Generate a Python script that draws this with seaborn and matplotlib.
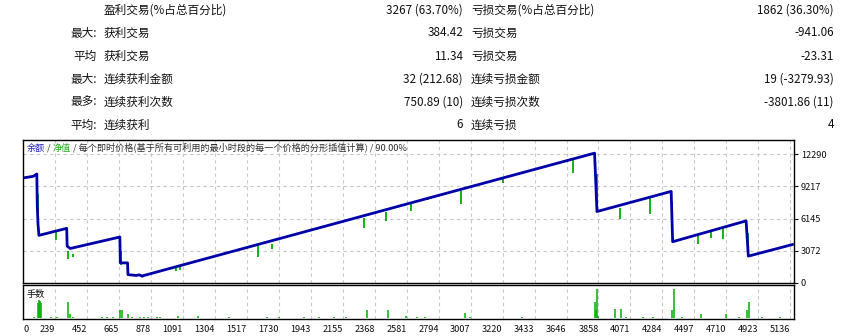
import numpy as np
import pandas as pd
import matplotlib
matplotlib.use('Agg')
import matplotlib.pyplot as plt
import seaborn as sns

# stats table (left half / right half)
row_prefix = ["", "最大:", "平均", "最大:", "最多:", "平均:"]
win_labels = ["盈利交易(%占总百分比)", "获利交易", "获利交易", "连续获利金额", "连续获利次数", "连续获利"]
win_values = ["3267 (63.70%)", "384.42", "11.34", "32 (212.68)", "750.89 (10)", "6"]
loss_labels = ["亏损交易(%占总百分比)", "亏损交易", "亏损交易", "连续亏损金额", "连续亏损次数", "连续亏损"]
loss_values = ["1862 (36.30%)", "-941.06", "-23.31", "19 (-3279.93)", "-3801.86 (11)", "4"]

# balance curve vertices (trade number, balance)
balance_x = [26, 95, 118, 121, 126, 132, 317, 320, 340, 671, 674, 722, 725, 780, 800, 820, 827,
             2701, 3832, 3848, 4342, 4352, 4841, 4856, 5152]
balance_y = [10015, 10180, 10400, 7365, 5600, 4540, 5214, 3520, 3290, 4388, 1920, 1920, 797, 720, 780, 640, 701,
             7998, 12387, 6817, 8738, 3937, 5924, 2563, 3678]

# equity dips (trade number, top, low)
spike_x = [124, 244, 327, 357, 680, 1042, 1071, 1592, 1681, 2297, 2446, 2612, 2726, 2945, 3222,
           3688, 3845, 4004, 4203, 4350, 4524, 4608, 4686, 4852]
spike_top = [8480, 4870, 3040, 2810, 3040, 1440, 1600, 3620, 3745, 6240, 6820, 7680, 8160, 8800, 9920,
             11840, 10400, 7200, 8160, 7680, 4640, 4960, 5280, 4800]
spike_low = [5830, 4100, 2330, 2500, 1760, 1120, 1220, 2470, 3200, 5210, 5925, 6885, 7900, 7520, 9535,
             10466, 7845, 6080, 6625, 5020, 3680, 4320, 4160, 3040]

# lot sizes
lot_x = [101, 128, 134, 141, 148, 210, 250, 323, 339, 361, 550, 583, 627, 671, 685, 725, 749, 804, 832,
         860, 916, 938, 1059, 1192, 1400, 1650, 1730, 1898, 2000, 2100, 2180, 2315, 2457, 2579, 2650,
         2700, 2967, 3000, 3351, 3834, 3841, 3847, 3854, 3970, 4007, 4043, 4154, 4220, 4346, 4362, 4413,
         4542, 4708, 4797, 4845, 4859, 4950, 5070]
lot_size = [0.05, 0.52, 0.63, 0.6, 0.52, 0.05, 0.05, 0.55, 0.15, 0.05, 0.04, 0.04, 0.04, 0.29, 0.29,
            0.15, 0.05, 0.04, 0.04, 0.04, 0.04, 0.04, 0.07, 0.07, 0.04, 0.04, 0.04, 0.05, 0.04, 0.04,
            0.05, 0.29, 0.29, 0.07, 0.04, 0.04, 0.17, 0.05, 0.05, 0.56, 0.29, 1.0, 0.07, 0.3, 0.3, 0.05,
            0.05, 0.05, 0.29, 1.0, 0.05, 0.16, 0.16, 0.05, 0.29, 0.55, 0.04, 0.04]

x_labels = ["0", "239", "452", "665", "878", "1091", "1304", "1517", "1730", "1943", "2155", "2368",
            "2581", "2794", "3007", "3220", "3433", "3646", "3858", "4071", "4284", "4497", "4710",
            "4923", "5136"]
y_ticks = [0, 3072, 6145, 9217, 12290]

BLUE = '#0000a8'
GREEN = '#00b000'
GRIDC = '#c8c8c8'

sns.set_style('white')
plt.rcParams['font.family'] = ['Noto Sans CJK SC', 'DejaVu Sans']

W, H = 849, 336
fig = plt.figure(figsize=(W / 100, H / 100), dpi=100)


def px_axes(l, t, r, b):
    return fig.add_axes([l / W, 1 - b / H, (r - l) / W, (b - t) / H])


# ---- table on top
rows_y = [10, 33, 56, 79, 102, 125]
for i, yy in enumerate(rows_y):
    fy = 1 - yy / H
    kw = dict(fontsize=8.4, va='center', color='#101010')
    fig.text(97 / W, fy, row_prefix[i], ha='right', **kw)
    fig.text(104 / W, fy, win_labels[i], ha='left', **kw)
    fig.text(463 / W, fy, win_values[i], ha='right', **kw)
    fig.text(471 / W, fy, loss_labels[i], ha='left', **kw)
    fig.text(834 / W, fy, loss_values[i], ha='right', **kw)

x_min, x_max = 26, 5160
xticks = [x_min] + [int(s) for s in x_labels[1:]]

# ---- balance / equity panel
ax = px_axes(23, 140, 794, 283)
ax.vlines(spike_x, spike_low, spike_top, color=GREEN, lw=1.3)
df = pd.DataFrame({'trade': balance_x, 'balance': balance_y})
sns.lineplot(data=df, x='trade', y='balance', ax=ax, color=BLUE, lw=2.0,
             estimator=None, sort=False)
ax.set_xlim(x_min, x_max)
ax.set_ylim(0, 13640)
ax.set_xticks(xticks[1:])
ax.set_yticks(y_ticks)
ax.yaxis.tick_right()
ax.tick_params(axis='x', length=0, labelbottom=False)
ax.tick_params(axis='y', length=3, width=0.8, pad=2, labelsize=6.6, colors='#101010')
ax.grid(True, color=GRIDC, ls=(0, (3, 3)), lw=0.8)
ax.set_xlabel('')
ax.set_ylabel('')
for s in ax.spines.values():
    s.set_color('black')
    s.set_linewidth(1.0)

t1 = ax.text(4 / 771, 0.944, "余额", transform=ax.transAxes, fontsize=6.6, color='#2020c0', va='center')
t2 = ax.annotate(" / ", xy=(1, 0), xycoords=t1, va='bottom', fontsize=6.6, color='#303030')
t3 = ax.annotate("净值", xy=(1, 0), xycoords=t2, va='bottom', fontsize=6.6, color='#20b020')
ax.annotate(" / 每个即时价格(基于所有可利用的最小时段的每一个价格的分形插值计算) / 90.00%",
            xy=(1, 0), xycoords=t3, va='bottom', fontsize=6.6, color='#303030')

# ---- lots panel
ax2 = px_axes(23, 285, 794, 319)
ax2.vlines(lot_x, 0, lot_size, color=GREEN, lw=1.1)
ax2.set_xlim(x_min, x_max)
ax2.set_ylim(-0.03, 1.15)
ax2.set_yticks([])
ax2.set_xticks(xticks)
ax2.set_xticklabels(x_labels)
ax2.tick_params(axis='x', length=3, width=0.8, pad=1, labelsize=6.6, colors='#101010')
for lab in ax2.get_xticklabels():
    lab.set_ha('right')
ax2.get_xticklabels()[0].set_ha('left')
ax2.grid(True, axis='x', color=GRIDC, ls=(0, (3, 3)), lw=0.8)
for s in ax2.spines.values():
    s.set_color('black')
    s.set_linewidth(1.0)
ax2.text(4 / 771, 0.72, "手数", transform=ax2.transAxes, fontsize=6.6, color='#101010', va='center')

fig.savefig('out.png', dpi=100)
